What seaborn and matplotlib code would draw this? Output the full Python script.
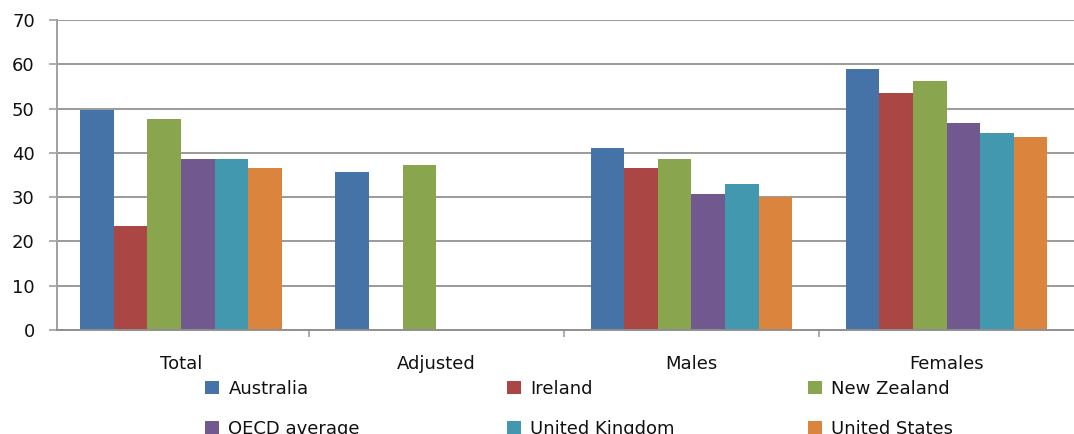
import numpy as np
import pandas as pd
import matplotlib
matplotlib.use("Agg")
import matplotlib.pyplot as plt
import seaborn as sns
from matplotlib.patches import Patch

categories = ["Total", "Adjusted", "Males", "Females"]
countries = ["Australia", "Ireland", "New Zealand", "OECD average",
             "United Kingdom", "United States"]
australia = [49.7, 35.7, 41.1, 58.9]
ireland = [23.5, np.nan, 36.6, 53.5]
new_zealand = [47.6, 37.3, 38.6, 56.2]
oecd_average = [38.6, np.nan, 30.7, 46.7]
united_kingdom = [38.6, np.nan, 33.0, 44.5]
united_states = [36.6, np.nan, 30.0, 43.6]
y_ticks = [0, 10, 20, 30, 40, 50, 60, 70]

colors = ["#4572A7", "#AA4643", "#89A54E", "#71588F", "#4198AF", "#DB843D"]

series = [australia, ireland, new_zealand, oecd_average, united_kingdom, united_states]
rows = []
for country, vals in zip(countries, series):
    for cat, v in zip(categories, vals):
        rows.append({"category": cat, "country": country, "value": v})
df = pd.DataFrame(rows)

sns.set_style("white")
plt.rcParams["font.family"] = ["DejaVu Sans"]

W, H = 1074, 434
fig = plt.figure(figsize=(W / 100, H / 100), dpi=100)
ax = fig.add_axes([57 / W, 104 / H, (W - 57) / W, 310 / H])

sns.barplot(data=df, x="category", y="value", hue="country",
            order=categories, hue_order=countries, palette=colors,
            errorbar=None, width=0.79, saturation=1, ax=ax,
            linewidth=0, legend=False)

ax.set_xlim(-0.486, 3.499)
ax.set_ylim(0, 70)
ax.set_yticks(y_ticks)
ax.set_yticklabels([str(t) for t in y_ticks], fontsize=13, color="#111111")
ax.yaxis.grid(True, color="#9a9a9a", linewidth=1.4)
ax.set_axisbelow(True)
ax.set_xlabel("")
ax.set_ylabel("")

for s in ["top", "right"]:
    ax.spines[s].set_visible(False)
ax.spines["left"].set_color("#a0a0a0")
ax.spines["left"].set_linewidth(1.4)
ax.spines["bottom"].set_color("#909090")
ax.spines["bottom"].set_linewidth(1.4)

ax.tick_params(axis="y", length=6, width=1.2, color="#a0a0a0", pad=10,
               direction="out", left=True)
ax.tick_params(axis="x", which="major", length=0, pad=18, labelsize=13,
               labelcolor="#111111")
ax.set_xticks(range(len(categories)))
ax.set_xticklabels(categories)
ax.set_xticks([0.5, 1.5, 2.5], minor=True)
ax.tick_params(axis="x", which="minor", length=5, width=1.2, color="#a0a0a0",
               direction="out", bottom=True)

# Legend: three columns placed individually
handles = [Patch(facecolor=c, edgecolor="none") for c in colors]
col_x = [205, 507, 808]
for j, x in enumerate(col_x):
    hs = [handles[j], handles[j + 3]]
    ls = [countries[j], countries[j + 3]]
    leg = fig.legend(hs, ls, loc="upper left",
                     bbox_to_anchor=(x / W, (H - 380) / H),
                     frameon=False, borderpad=0, borderaxespad=0,
                     handlelength=0.75, handleheight=0.75,
                     handletextpad=0.55, labelspacing=1.2,
                     prop={"size": 13})
    for t in leg.get_texts():
        t.set_color("#111111")

fig.savefig("out.png", dpi=100)
